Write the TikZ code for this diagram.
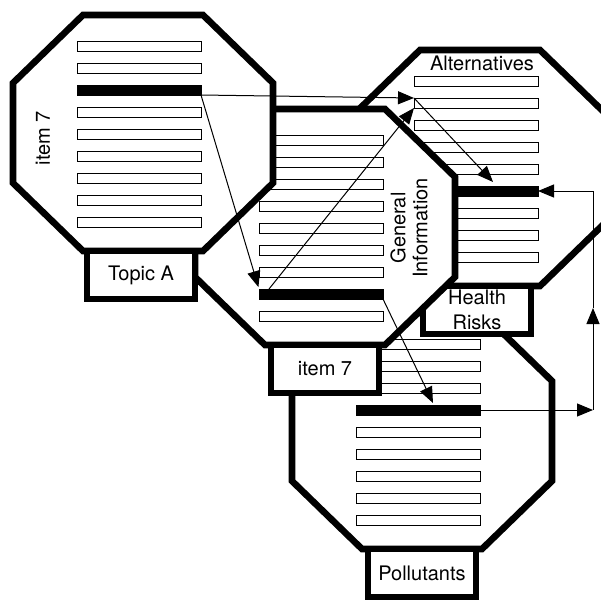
\documentclass[tikz,border=0pt]{standalone}
\usepackage{fontspec}
\setmainfont{TeX Gyre Heros}
\usetikzlibrary{arrows.meta}
\tikzset{
  card/.style={draw=ink,fill=paper,line width=3.3pt},
  tab/.style={draw=ink,fill=paper,line width=3.3pt,minimum width=54pt,minimum height=24pt,
    inner sep=0pt,outer sep=0pt,anchor=north,align=center},
  bar/.style={draw=ink,fill=paper,line width=.5pt,minimum width=62pt,minimum height=5pt,
    inner sep=0pt,outer sep=0pt,anchor=north west},
  link/.style={draw=ink,line width=.5pt,-{Triangle[length=8pt,width=6.5pt]}}
}
\begin{document}
\begin{tikzpicture}[x=.5pt,y=-.5pt,font=\fontsize{10}{11}\selectfont]
\definecolor{ink}{HTML}{000000}\definecolor{paper}{HTML}{FFFFFF}
\useasboundingbox[fill=paper] (0,0) rectangle (601,601);
% Pollutants (back)
\filldraw[card] (362,313) -- (482,313) -- (552,381) -- (552,481) -- (482,549) -- (362,549) -- (292,481) -- (292,381) -- cycle;
\foreach \i in {1,...,9} \node[bar] (poll-\i) at (356,{339+22*(\i-1)}) {};
\fill[ink] (poll-4.north west) rectangle (poll-4.south east);
\node[tab] (poll) at (422,549) {Pollutants};
% Alternatives
\filldraw[card] (420,50) -- (540,50) -- (610,118) -- (610,218) -- (540,286) -- (420,286) -- (350,218) -- (350,118) -- cycle;
\foreach \i in {1,...,9} \node[bar] (alt-\i) at (414,{76+22*(\i-1)}) {};
\fill[ink] (alt-6.north west) rectangle (alt-6.south east);
\node (alttitle) at (482,63) {Alternatives};
\node[tab,font=\fontsize{10}{12.5}\selectfont] (health) at (477,286) {Health\\Risks};
% General Information
\filldraw[card] (265,109) -- (385,109) -- (455,177) -- (455,277) -- (385,345) -- (265,345) -- (195,277) -- (195,177) -- cycle;
\foreach \i in {1,...,9} \node[bar] (info-\i) at (259,{135+22*(\i-1)}) {};
\fill[ink] (info-8.north west) rectangle (info-8.south east);
\node[rotate=90,align=center] (infotitle) at (409,228) {General\\Information};
\node[tab] (item) at (325,345) {item 7};
% Topic A (front)
\filldraw[card] (83,15) -- (203,15) -- (273,83) -- (273,183) -- (203,251) -- (83,251) -- (13,183) -- (13,83) -- cycle;
\foreach \i in {1,...,9} \node[bar] (topa-\i) at (77,{41+22*(\i-1)}) {};
\fill[ink] (topa-3.north west) rectangle (topa-3.south east);
\node[rotate=90] (topatitle) at (43,138) {item 7};
\node[tab] (topa) at (141,251) {Topic A};
% links between the items
\draw[link] (topa-3.south east) -- (alt-2.north west);
\draw[link,shorten >=1pt] (topa-3.south east) -- (info-8.north west);
\draw[link] ([xshift=5pt]info-8.north west) -- (alt-2.south west);
\draw[link] (alt-2.north west) -- ([xshift=8.5pt,yshift=2pt]alt-6.north);
\draw[link] (info-8.south east) -- ([xshift=7.5pt,yshift=1pt]poll-4.north);
\coordinate (rtop) at (593,191);
\coordinate (rmid) at (593,308);
\draw[link] (poll-4.east) -- (poll-4.east -| rtop);
\draw[link] (poll-4.east -| rtop) -- (rmid);
\draw[link] (rmid) |- (alt-6.east);
\end{tikzpicture}
\end{document}
